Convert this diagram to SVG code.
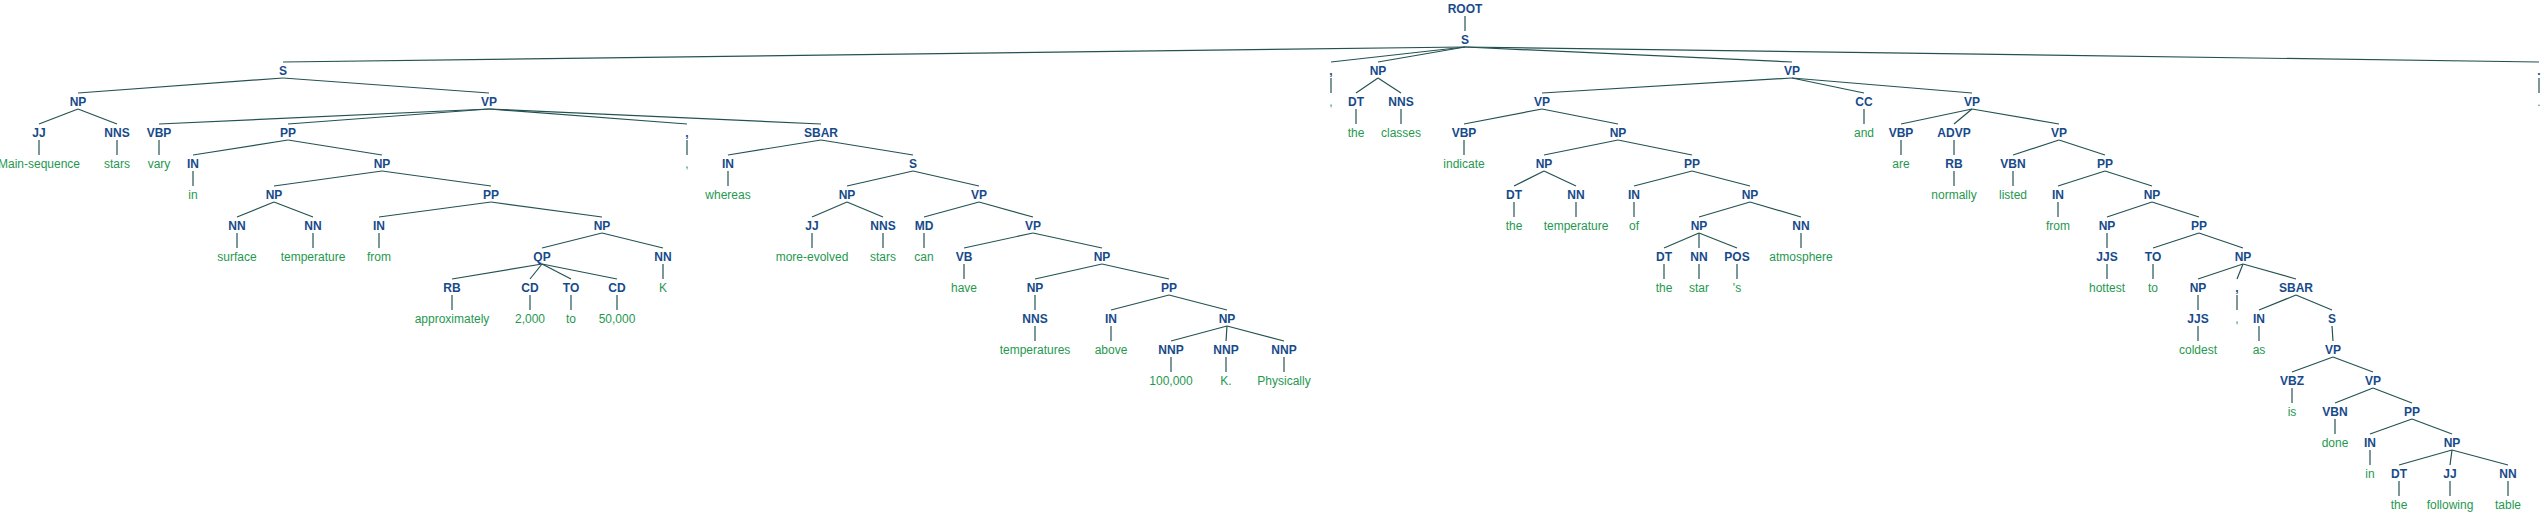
<svg xmlns="http://www.w3.org/2000/svg" width="2544" height="513" viewBox="0 0 2544 513">
<style>
text{font-family:"Liberation Sans",Arial,sans-serif;font-size:12px;text-anchor:middle}
.t{font-weight:bold;fill:#174a8b}
.w{fill:#1f9850}
#edges line{stroke:#245252;stroke-width:1.2}
</style>
<rect width="2544" height="513" fill="#fff"/>
<g id="edges">
<line x1="1465" y1="16" x2="1465" y2="31"/>
<line x1="1465" y1="47" x2="283" y2="62"/><line x1="1465" y1="47" x2="1331" y2="62"/><line x1="1465" y1="47" x2="1378" y2="62"/><line x1="1465" y1="47" x2="1792" y2="62"/><line x1="1465" y1="47" x2="2539" y2="62"/>
<line x1="283" y1="78" x2="78" y2="93"/><line x1="283" y1="78" x2="489" y2="93"/><line x1="1331" y1="78" x2="1331" y2="93"/><line x1="1378" y1="78" x2="1356" y2="93"/><line x1="1378" y1="78" x2="1401" y2="93"/><line x1="1792" y1="78" x2="1542" y2="93"/><line x1="1792" y1="78" x2="1864" y2="93"/><line x1="1792" y1="78" x2="1972" y2="93"/><line x1="2539" y1="78" x2="2539" y2="93"/>
<line x1="78" y1="109" x2="39" y2="124"/><line x1="78" y1="109" x2="117" y2="124"/><line x1="489" y1="109" x2="159" y2="124"/><line x1="489" y1="109" x2="288" y2="124"/><line x1="489" y1="109" x2="687" y2="124"/><line x1="489" y1="109" x2="821" y2="124"/><line x1="1356" y1="109" x2="1356" y2="124"/><line x1="1401" y1="109" x2="1401" y2="124"/><line x1="1542" y1="109" x2="1464" y2="124"/><line x1="1542" y1="109" x2="1618" y2="124"/><line x1="1864" y1="109" x2="1864" y2="124"/><line x1="1972" y1="109" x2="1901" y2="124"/><line x1="1972" y1="109" x2="1954" y2="124"/><line x1="1972" y1="109" x2="2059" y2="124"/>
<line x1="39" y1="140" x2="39" y2="155"/><line x1="117" y1="140" x2="117" y2="155"/><line x1="159" y1="140" x2="159" y2="155"/><line x1="288" y1="140" x2="193" y2="155"/><line x1="288" y1="140" x2="382" y2="155"/><line x1="687" y1="140" x2="687" y2="155"/><line x1="821" y1="140" x2="728" y2="155"/><line x1="821" y1="140" x2="913" y2="155"/><line x1="1464" y1="140" x2="1464" y2="155"/><line x1="1618" y1="140" x2="1544" y2="155"/><line x1="1618" y1="140" x2="1692" y2="155"/><line x1="1901" y1="140" x2="1901" y2="155"/><line x1="1954" y1="140" x2="1954" y2="155"/><line x1="2059" y1="140" x2="2013" y2="155"/><line x1="2059" y1="140" x2="2105" y2="155"/>
<line x1="193" y1="171" x2="193" y2="186"/><line x1="382" y1="171" x2="274" y2="186"/><line x1="382" y1="171" x2="491" y2="186"/><line x1="728" y1="171" x2="728" y2="186"/><line x1="913" y1="171" x2="847" y2="186"/><line x1="913" y1="171" x2="979" y2="186"/><line x1="1544" y1="171" x2="1514" y2="186"/><line x1="1544" y1="171" x2="1576" y2="186"/><line x1="1692" y1="171" x2="1634" y2="186"/><line x1="1692" y1="171" x2="1750" y2="186"/><line x1="1954" y1="171" x2="1954" y2="186"/><line x1="2013" y1="171" x2="2013" y2="186"/><line x1="2105" y1="171" x2="2058" y2="186"/><line x1="2105" y1="171" x2="2152" y2="186"/>
<line x1="274" y1="202" x2="237" y2="217"/><line x1="274" y1="202" x2="313" y2="217"/><line x1="491" y1="202" x2="379" y2="217"/><line x1="491" y1="202" x2="602" y2="217"/><line x1="847" y1="202" x2="812" y2="217"/><line x1="847" y1="202" x2="883" y2="217"/><line x1="979" y1="202" x2="924" y2="217"/><line x1="979" y1="202" x2="1033" y2="217"/><line x1="1514" y1="202" x2="1514" y2="217"/><line x1="1576" y1="202" x2="1576" y2="217"/><line x1="1634" y1="202" x2="1634" y2="217"/><line x1="1750" y1="202" x2="1699" y2="217"/><line x1="1750" y1="202" x2="1801" y2="217"/><line x1="2058" y1="202" x2="2058" y2="217"/><line x1="2152" y1="202" x2="2107" y2="217"/><line x1="2152" y1="202" x2="2199" y2="217"/>
<line x1="237" y1="233" x2="237" y2="248"/><line x1="313" y1="233" x2="313" y2="248"/><line x1="379" y1="233" x2="379" y2="248"/><line x1="602" y1="233" x2="542" y2="248"/><line x1="602" y1="233" x2="663" y2="248"/><line x1="812" y1="233" x2="812" y2="248"/><line x1="883" y1="233" x2="883" y2="248"/><line x1="924" y1="233" x2="924" y2="248"/><line x1="1033" y1="233" x2="964" y2="248"/><line x1="1033" y1="233" x2="1102" y2="248"/><line x1="1699" y1="233" x2="1664" y2="248"/><line x1="1699" y1="233" x2="1699" y2="248"/><line x1="1699" y1="233" x2="1737" y2="248"/><line x1="1801" y1="233" x2="1801" y2="248"/><line x1="2107" y1="233" x2="2107" y2="248"/><line x1="2199" y1="233" x2="2153" y2="248"/><line x1="2199" y1="233" x2="2243" y2="248"/>
<line x1="542" y1="264" x2="452" y2="279"/><line x1="542" y1="264" x2="530" y2="279"/><line x1="542" y1="264" x2="571" y2="279"/><line x1="542" y1="264" x2="617" y2="279"/><line x1="663" y1="264" x2="663" y2="279"/><line x1="964" y1="264" x2="964" y2="279"/><line x1="1102" y1="264" x2="1035" y2="279"/><line x1="1102" y1="264" x2="1169" y2="279"/><line x1="1664" y1="264" x2="1664" y2="279"/><line x1="1699" y1="264" x2="1699" y2="279"/><line x1="1737" y1="264" x2="1737" y2="279"/><line x1="2107" y1="264" x2="2107" y2="279"/><line x1="2153" y1="264" x2="2153" y2="279"/><line x1="2243" y1="264" x2="2198" y2="279"/><line x1="2243" y1="264" x2="2237" y2="279"/><line x1="2243" y1="264" x2="2296" y2="279"/>
<line x1="452" y1="295" x2="452" y2="310"/><line x1="530" y1="295" x2="530" y2="310"/><line x1="571" y1="295" x2="571" y2="310"/><line x1="617" y1="295" x2="617" y2="310"/><line x1="1035" y1="295" x2="1035" y2="310"/><line x1="1169" y1="295" x2="1111" y2="310"/><line x1="1169" y1="295" x2="1227" y2="310"/><line x1="2198" y1="295" x2="2198" y2="310"/><line x1="2237" y1="295" x2="2237" y2="310"/><line x1="2296" y1="295" x2="2259" y2="310"/><line x1="2296" y1="295" x2="2332" y2="310"/>
<line x1="1035" y1="326" x2="1035" y2="341"/><line x1="1111" y1="326" x2="1111" y2="341"/><line x1="1227" y1="326" x2="1171" y2="341"/><line x1="1227" y1="326" x2="1226" y2="341"/><line x1="1227" y1="326" x2="1284" y2="341"/><line x1="2198" y1="326" x2="2198" y2="341"/><line x1="2259" y1="326" x2="2259" y2="341"/><line x1="2332" y1="326" x2="2333" y2="341"/>
<line x1="1171" y1="357" x2="1171" y2="372"/><line x1="1226" y1="357" x2="1226" y2="372"/><line x1="1284" y1="357" x2="1284" y2="372"/><line x1="2333" y1="357" x2="2292" y2="372"/><line x1="2333" y1="357" x2="2373" y2="372"/>
<line x1="2292" y1="388" x2="2292" y2="403"/><line x1="2373" y1="388" x2="2335" y2="403"/><line x1="2373" y1="388" x2="2412" y2="403"/>
<line x1="2335" y1="419" x2="2335" y2="434"/><line x1="2412" y1="419" x2="2370" y2="434"/><line x1="2412" y1="419" x2="2452" y2="434"/>
<line x1="2370" y1="450" x2="2370" y2="465"/><line x1="2452" y1="450" x2="2399" y2="465"/><line x1="2452" y1="450" x2="2450" y2="465"/><line x1="2452" y1="450" x2="2508" y2="465"/>
<line x1="2399" y1="481" x2="2399" y2="496"/><line x1="2450" y1="481" x2="2450" y2="496"/><line x1="2508" y1="481" x2="2508" y2="496"/>
</g>
<g id="n0"><text class="t" x="1465" y="12.5">ROOT</text></g>
<g id="n1"><text class="t" x="1465" y="43.5">S</text></g>
<g id="n2"><text class="t" x="283" y="74.5">S</text></g>
<g id="n3"><text class="t" x="78" y="105.5">NP</text></g>
<g id="n4"><text class="t" x="39" y="136.5">JJ</text></g>
<g id="w4"><text class="w" x="39" y="167.5">Main-sequence</text></g>
<g id="n5"><text class="t" x="117" y="136.5">NNS</text></g>
<g id="w5"><text class="w" x="117" y="167.5">stars</text></g>
<g id="n6"><text class="t" x="489" y="105.5">VP</text></g>
<g id="n7"><text class="t" x="159" y="136.5">VBP</text></g>
<g id="w7"><text class="w" x="159" y="167.5">vary</text></g>
<g id="n8"><text class="t" x="288" y="136.5">PP</text></g>
<g id="n9"><text class="t" x="193" y="167.5">IN</text></g>
<g id="w9"><text class="w" x="193" y="198.5">in</text></g>
<g id="n10"><text class="t" x="382" y="167.5">NP</text></g>
<g id="n11"><text class="t" x="274" y="198.5">NP</text></g>
<g id="n12"><text class="t" x="237" y="229.5">NN</text></g>
<g id="w12"><text class="w" x="237" y="260.5">surface</text></g>
<g id="n13"><text class="t" x="313" y="229.5">NN</text></g>
<g id="w13"><text class="w" x="313" y="260.5">temperature</text></g>
<g id="n14"><text class="t" x="491" y="198.5">PP</text></g>
<g id="n15"><text class="t" x="379" y="229.5">IN</text></g>
<g id="w15"><text class="w" x="379" y="260.5">from</text></g>
<g id="n16"><text class="t" x="602" y="229.5">NP</text></g>
<g id="n17"><text class="t" x="542" y="260.5">QP</text></g>
<g id="n18"><text class="t" x="452" y="291.5">RB</text></g>
<g id="w18"><text class="w" x="452" y="322.5">approximately</text></g>
<g id="n19"><text class="t" x="530" y="291.5">CD</text></g>
<g id="w19"><text class="w" x="530" y="322.5">2,000</text></g>
<g id="n20"><text class="t" x="571" y="291.5">TO</text></g>
<g id="w20"><text class="w" x="571" y="322.5">to</text></g>
<g id="n21"><text class="t" x="617" y="291.5">CD</text></g>
<g id="w21"><text class="w" x="617" y="322.5">50,000</text></g>
<g id="n22"><text class="t" x="663" y="260.5">NN</text></g>
<g id="w22"><text class="w" x="663" y="291.5">K</text></g>
<g id="n23"><text class="t" x="687" y="136.5">,</text></g>
<g id="w23"><text class="w" x="687" y="167.5">,</text></g>
<g id="n24"><text class="t" x="821" y="136.5">SBAR</text></g>
<g id="n25"><text class="t" x="728" y="167.5">IN</text></g>
<g id="w25"><text class="w" x="728" y="198.5">whereas</text></g>
<g id="n26"><text class="t" x="913" y="167.5">S</text></g>
<g id="n27"><text class="t" x="847" y="198.5">NP</text></g>
<g id="n28"><text class="t" x="812" y="229.5">JJ</text></g>
<g id="w28"><text class="w" x="812" y="260.5">more-evolved</text></g>
<g id="n29"><text class="t" x="883" y="229.5">NNS</text></g>
<g id="w29"><text class="w" x="883" y="260.5">stars</text></g>
<g id="n30"><text class="t" x="979" y="198.5">VP</text></g>
<g id="n31"><text class="t" x="924" y="229.5">MD</text></g>
<g id="w31"><text class="w" x="924" y="260.5">can</text></g>
<g id="n32"><text class="t" x="1033" y="229.5">VP</text></g>
<g id="n33"><text class="t" x="964" y="260.5">VB</text></g>
<g id="w33"><text class="w" x="964" y="291.5">have</text></g>
<g id="n34"><text class="t" x="1102" y="260.5">NP</text></g>
<g id="n35"><text class="t" x="1035" y="291.5">NP</text></g>
<g id="n36"><text class="t" x="1035" y="322.5">NNS</text></g>
<g id="w36"><text class="w" x="1035" y="353.5">temperatures</text></g>
<g id="n37"><text class="t" x="1169" y="291.5">PP</text></g>
<g id="n38"><text class="t" x="1111" y="322.5">IN</text></g>
<g id="w38"><text class="w" x="1111" y="353.5">above</text></g>
<g id="n39"><text class="t" x="1227" y="322.5">NP</text></g>
<g id="n40"><text class="t" x="1171" y="353.5">NNP</text></g>
<g id="w40"><text class="w" x="1171" y="384.5">100,000</text></g>
<g id="n41"><text class="t" x="1226" y="353.5">NNP</text></g>
<g id="w41"><text class="w" x="1226" y="384.5">K.</text></g>
<g id="n42"><text class="t" x="1284" y="353.5">NNP</text></g>
<g id="w42"><text class="w" x="1284" y="384.5">Physically</text></g>
<g id="n43"><text class="t" x="1331" y="74.5">,</text></g>
<g id="w43"><text class="w" x="1331" y="105.5">,</text></g>
<g id="n44"><text class="t" x="1378" y="74.5">NP</text></g>
<g id="n45"><text class="t" x="1356" y="105.5">DT</text></g>
<g id="w45"><text class="w" x="1356" y="136.5">the</text></g>
<g id="n46"><text class="t" x="1401" y="105.5">NNS</text></g>
<g id="w46"><text class="w" x="1401" y="136.5">classes</text></g>
<g id="n47"><text class="t" x="1792" y="74.5">VP</text></g>
<g id="n48"><text class="t" x="1542" y="105.5">VP</text></g>
<g id="n49"><text class="t" x="1464" y="136.5">VBP</text></g>
<g id="w49"><text class="w" x="1464" y="167.5">indicate</text></g>
<g id="n50"><text class="t" x="1618" y="136.5">NP</text></g>
<g id="n51"><text class="t" x="1544" y="167.5">NP</text></g>
<g id="n52"><text class="t" x="1514" y="198.5">DT</text></g>
<g id="w52"><text class="w" x="1514" y="229.5">the</text></g>
<g id="n53"><text class="t" x="1576" y="198.5">NN</text></g>
<g id="w53"><text class="w" x="1576" y="229.5">temperature</text></g>
<g id="n54"><text class="t" x="1692" y="167.5">PP</text></g>
<g id="n55"><text class="t" x="1634" y="198.5">IN</text></g>
<g id="w55"><text class="w" x="1634" y="229.5">of</text></g>
<g id="n56"><text class="t" x="1750" y="198.5">NP</text></g>
<g id="n57"><text class="t" x="1699" y="229.5">NP</text></g>
<g id="n58"><text class="t" x="1664" y="260.5">DT</text></g>
<g id="w58"><text class="w" x="1664" y="291.5">the</text></g>
<g id="n59"><text class="t" x="1699" y="260.5">NN</text></g>
<g id="w59"><text class="w" x="1699" y="291.5">star</text></g>
<g id="n60"><text class="t" x="1737" y="260.5">POS</text></g>
<g id="w60"><text class="w" x="1737" y="291.5">'s</text></g>
<g id="n61"><text class="t" x="1801" y="229.5">NN</text></g>
<g id="w61"><text class="w" x="1801" y="260.5">atmosphere</text></g>
<g id="n62"><text class="t" x="1864" y="105.5">CC</text></g>
<g id="w62"><text class="w" x="1864" y="136.5">and</text></g>
<g id="n63"><text class="t" x="1972" y="105.5">VP</text></g>
<g id="n64"><text class="t" x="1901" y="136.5">VBP</text></g>
<g id="w64"><text class="w" x="1901" y="167.5">are</text></g>
<g id="n65"><text class="t" x="1954" y="136.5">ADVP</text></g>
<g id="n66"><text class="t" x="1954" y="167.5">RB</text></g>
<g id="w66"><text class="w" x="1954" y="198.5">normally</text></g>
<g id="n67"><text class="t" x="2059" y="136.5">VP</text></g>
<g id="n68"><text class="t" x="2013" y="167.5">VBN</text></g>
<g id="w68"><text class="w" x="2013" y="198.5">listed</text></g>
<g id="n69"><text class="t" x="2105" y="167.5">PP</text></g>
<g id="n70"><text class="t" x="2058" y="198.5">IN</text></g>
<g id="w70"><text class="w" x="2058" y="229.5">from</text></g>
<g id="n71"><text class="t" x="2152" y="198.5">NP</text></g>
<g id="n72"><text class="t" x="2107" y="229.5">NP</text></g>
<g id="n73"><text class="t" x="2107" y="260.5">JJS</text></g>
<g id="w73"><text class="w" x="2107" y="291.5">hottest</text></g>
<g id="n74"><text class="t" x="2199" y="229.5">PP</text></g>
<g id="n75"><text class="t" x="2153" y="260.5">TO</text></g>
<g id="w75"><text class="w" x="2153" y="291.5">to</text></g>
<g id="n76"><text class="t" x="2243" y="260.5">NP</text></g>
<g id="n77"><text class="t" x="2198" y="291.5">NP</text></g>
<g id="n78"><text class="t" x="2198" y="322.5">JJS</text></g>
<g id="w78"><text class="w" x="2198" y="353.5">coldest</text></g>
<g id="n79"><text class="t" x="2237" y="291.5">,</text></g>
<g id="w79"><text class="w" x="2237" y="322.5">,</text></g>
<g id="n80"><text class="t" x="2296" y="291.5">SBAR</text></g>
<g id="n81"><text class="t" x="2259" y="322.5">IN</text></g>
<g id="w81"><text class="w" x="2259" y="353.5">as</text></g>
<g id="n82"><text class="t" x="2332" y="322.5">S</text></g>
<g id="n83"><text class="t" x="2333" y="353.5">VP</text></g>
<g id="n84"><text class="t" x="2292" y="384.5">VBZ</text></g>
<g id="w84"><text class="w" x="2292" y="415.5">is</text></g>
<g id="n85"><text class="t" x="2373" y="384.5">VP</text></g>
<g id="n86"><text class="t" x="2335" y="415.5">VBN</text></g>
<g id="w86"><text class="w" x="2335" y="446.5">done</text></g>
<g id="n87"><text class="t" x="2412" y="415.5">PP</text></g>
<g id="n88"><text class="t" x="2370" y="446.5">IN</text></g>
<g id="w88"><text class="w" x="2370" y="477.5">in</text></g>
<g id="n89"><text class="t" x="2452" y="446.5">NP</text></g>
<g id="n90"><text class="t" x="2399" y="477.5">DT</text></g>
<g id="w90"><text class="w" x="2399" y="508.5">the</text></g>
<g id="n91"><text class="t" x="2450" y="477.5">JJ</text></g>
<g id="w91"><text class="w" x="2450" y="508.5">following</text></g>
<g id="n92"><text class="t" x="2508" y="477.5">NN</text></g>
<g id="w92"><text class="w" x="2508" y="508.5">table</text></g>
<g id="n93"><text class="t" x="2539" y="74.5">.</text></g>
<g id="w93"><text class="w" x="2539" y="105.5">.</text></g>
</svg>
